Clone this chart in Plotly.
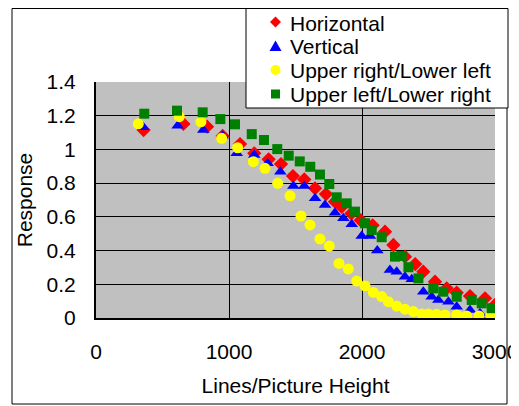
import plotly.graph_objects as go

# ---- data ----
horiz_x = [358, 657, 835, 952, 1083, 1190, 1298, 1391, 1481, 1566, 1647, 1729, 1797, 1847, 1920, 1990, 2080, 2173, 2236, 2323, 2400, 2461, 2549, 2637, 2712, 2812, 2925, 3000]
horiz_y = [1.115, 1.151, 1.135, 1.08, 1.032, 0.977, 0.941, 0.913, 0.842, 0.822, 0.769, 0.735, 0.69, 0.66, 0.62, 0.58, 0.55, 0.512, 0.433, 0.364, 0.32, 0.275, 0.215, 0.176, 0.15, 0.13, 0.117, 0.077]

vert_x = [356, 614, 807, 952, 1058, 1190, 1291, 1386, 1484, 1566, 1647, 1722, 1797, 1860, 1923, 1998, 2060, 2115, 2210, 2261, 2323, 2374, 2461, 2524, 2574, 2650, 2712, 2812, 2887, 2962]
vert_y = [1.131, 1.141, 1.115, 1.081, 0.977, 0.967, 0.918, 0.868, 0.783, 0.783, 0.71, 0.67, 0.625, 0.591, 0.556, 0.486, 0.486, 0.40, 0.285, 0.275, 0.245, 0.23, 0.156, 0.126, 0.107, 0.097, 0.067, 0.047, 0.028, 0.018]

urll_x = [318, 626, 789, 945, 1065, 1183, 1271, 1366, 1459, 1541, 1609, 1684, 1754, 1827, 1897, 1960, 2023, 2085, 2148, 2198, 2261, 2323, 2386, 2449, 2499, 2561, 2624, 2712, 2787, 2880, 2967]
urll_y = [1.152, 1.194, 1.164, 1.066, 1.01, 0.927, 0.888, 0.799, 0.725, 0.605, 0.552, 0.469, 0.427, 0.324, 0.291, 0.219, 0.19, 0.152, 0.127, 0.097, 0.071, 0.052, 0.038, 0.024, 0.024, 0.022, 0.018, 0.018, 0.012, 0.012, 0.012]

ullr_x = [363, 609, 802, 935, 1045, 1171, 1263, 1363, 1449, 1532, 1611, 1684, 1754, 1810, 1885, 1947, 2023, 2073, 2148, 2248, 2298, 2349, 2424, 2536, 2611, 2712, 2825, 2900, 2975]
ullr_y = [1.212, 1.23, 1.22, 1.18, 1.149, 1.091, 1.056, 1.002, 0.963, 0.929, 0.897, 0.851, 0.795, 0.716, 0.680, 0.631, 0.562, 0.522, 0.479, 0.364, 0.368, 0.301, 0.235, 0.176, 0.156, 0.126, 0.107, 0.087, 0.058]

series_names = ["Horizontal", "Vertical", "Upper right/Lower left", "Upper left/Lower right"]
series_colors = ["#FF0000", "#0000FF", "#FFFF00", "#008000"]
x_ticks = [0, 1000, 2000, 3000]
y_ticks = [0, 0.2, 0.4, 0.6, 0.8, 1.0, 1.2, 1.4]
y_tick_text = ["0", "0.2", "0.4", "0.6", "0.8", "1", "1.2", "1.4"]

FONT = "Liberation Sans, Arial, sans-serif"
FS = 21

# figure geometry (the page adds an 8px body margin)
W, H = 511, 398
L, R, T, B = 88, 24, 74, 88
PW, PH = W - L - R, H - T - B


def px(fx):
    return (fx - L) / PW


def py(fy):
    return (H - B - fy) / PH


symbols = ["diamond", "triangle-up", "circle", "square"]
sizes = [11, 11, 11, 10]
data = [(horiz_x, horiz_y), (vert_x, vert_y), (urll_x, urll_y), (ullr_x, ullr_y)]

fig = go.Figure()
for name, (xs, ys), sym, sz, col in zip(series_names, data, symbols, sizes, series_colors):
    fig.add_trace(go.Scatter(x=xs, y=ys, mode="markers", name=name,
                             marker=dict(symbol=sym, size=sz, color=col)))

# ---- legend box (drawn by hand to match the compact row spacing) ----
box = dict(x0=238, x1=500, y0=0.5, y1=100)
row_y = [14, 38, 62, 86]
sym_x = 267.5
text_x = 280

shapes = [
    # outer chart frame
    dict(type="rect", xref="paper", yref="paper",
         x0=px(4), x1=px(499), y0=py(396), y1=py(0.5),
         line=dict(color="black", width=1), layer="below"),
    # legend frame
    dict(type="rect", xref="paper", yref="paper",
         x0=px(box["x0"]), x1=px(box["x1"]), y0=py(box["y1"]), y1=py(box["y0"]),
         fillcolor="white", line=dict(color="black", width=1), layer="above"),
]


def path(points):
    return "M " + " L ".join(f"{px(a):.5f},{py(b):.5f}" for a, b in points) + " Z"


annotations = []
for i, (name, col, ry) in enumerate(zip(series_names, series_colors, row_y)):
    if i == 0:   # diamond
        d = path([(sym_x, ry - 5.5), (sym_x + 5.5, ry), (sym_x, ry + 5.5), (sym_x - 5.5, ry)])
        shapes.append(dict(type="path", xref="paper", yref="paper", path=d,
                           fillcolor=col, line=dict(width=0), layer="above"))
    elif i == 1:  # triangle
        d = path([(sym_x, ry - 5.5), (sym_x + 6, ry + 5), (sym_x - 6, ry + 5)])
        shapes.append(dict(type="path", xref="paper", yref="paper", path=d,
                           fillcolor=col, line=dict(width=0), layer="above"))
    elif i == 2:  # circle
        shapes.append(dict(type="circle", xref="paper", yref="paper",
                           x0=px(sym_x - 5), x1=px(sym_x + 5), y0=py(ry + 5), y1=py(ry - 5),
                           fillcolor=col, line=dict(width=0), layer="above"))
    else:        # square
        shapes.append(dict(type="rect", xref="paper", yref="paper",
                           x0=px(sym_x - 4.5), x1=px(sym_x + 4.5), y0=py(ry + 4.5), y1=py(ry - 4.5),
                           fillcolor=col, line=dict(width=0), layer="above"))
    annotations.append(dict(text=name, xref="paper", yref="paper", x=px(text_x), y=py(ry + 1),
                            xanchor="left", yanchor="middle", showarrow=False,
                            font=dict(family=FONT, size=FS, color="black")))

fig.update_layout(
    width=W, height=H,
    margin=dict(l=L, r=R, t=T, b=B, autoexpand=False),
    paper_bgcolor="white",
    plot_bgcolor="#C0C0C0",
    font=dict(family=FONT, size=FS, color="black"),
    showlegend=False,
    shapes=shapes,
    annotations=annotations,
)
fig.update_xaxes(range=[0, 3000], tickvals=x_ticks, showgrid=True, gridcolor="black",
                 gridwidth=1, showline=True, linecolor="black", linewidth=2,
                 zeroline=False, ticks="", ticklabelstandoff=14,
                 tickfont=dict(size=FS),
                 title=dict(text="Lines/Picture Height", standoff=16, font=dict(size=FS)))
fig.update_yaxes(range=[0, 1.4], tickvals=y_ticks, ticktext=y_tick_text, showgrid=True,
                 gridcolor="black", gridwidth=1, showline=True, linecolor="black",
                 linewidth=2, zeroline=False, ticks="", ticklabelstandoff=14,
                 tickfont=dict(size=FS),
                 title=dict(text="Response", standoff=8, font=dict(size=FS)))

fig.write_html("out.html")
